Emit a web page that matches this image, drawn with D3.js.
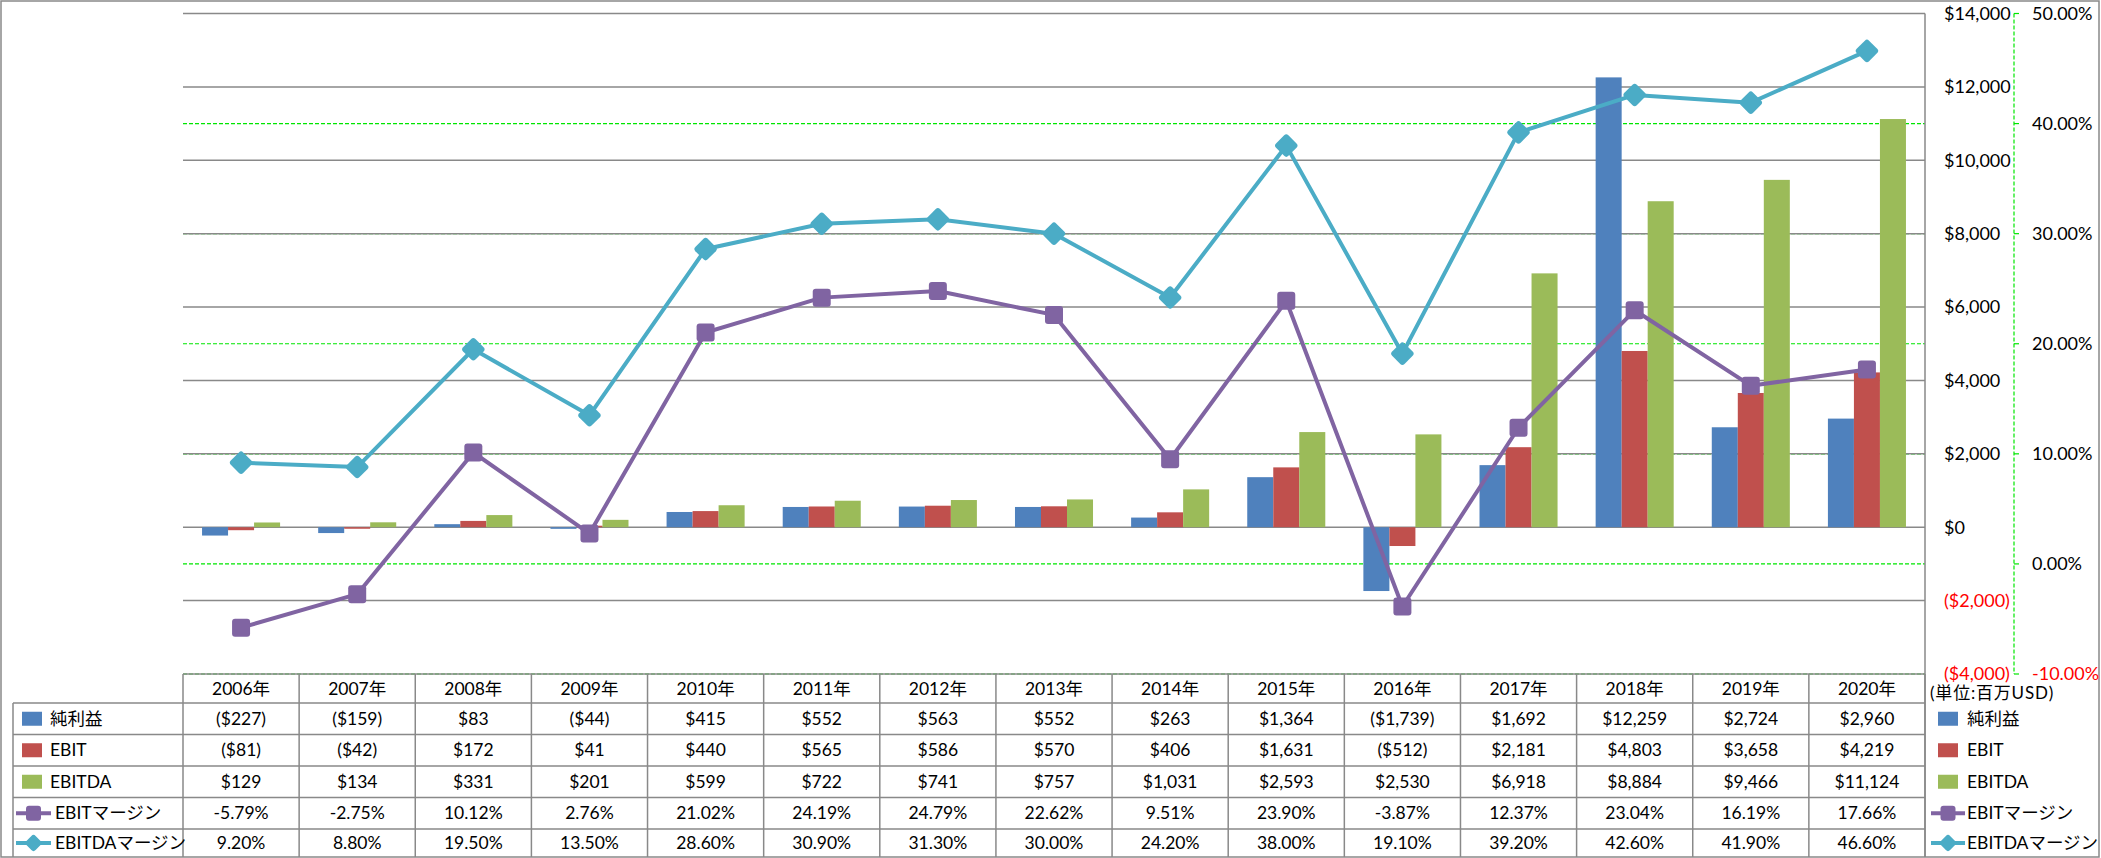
<!DOCTYPE html>
<html><head><meta charset="utf-8">
<script src="https://cdn.jsdelivr.net/npm/d3@7"></script>
<style>
body{margin:0;background:#fff}
svg{display:block}
text{font-family:Lato,'Noto Sans CJK JP',sans-serif;fill:#000}
</style>
</head><body>
<svg id="c" width="2101" height="858"></svg>
<script>
// ---- data ----
const years = ["2006年","2007年","2008年","2009年","2010年","2011年","2012年","2013年","2014年","2015年","2016年","2017年","2018年","2019年","2020年"];
const netIncome = [-227,-159,83,-44,415,552,563,552,263,1364,-1739,1692,12259,2724,2960];
const ebit      = [-81,-42,172,41,440,565,586,570,406,1631,-512,2181,4803,3658,4219];
const ebitda    = [129,134,331,201,599,722,741,757,1031,2593,2530,6918,8884,9466,11124];
const ebitMargin   = [-5.79,-2.75,10.12,2.76,21.02,24.19,24.79,22.62,9.51,23.90,-3.87,12.37,23.04,16.19,17.66];
const ebitdaMargin = [9.20,8.80,19.50,13.50,28.60,30.90,31.30,30.00,24.20,38.00,19.10,39.20,42.60,41.90,46.60];
const dollarTicks  = [-4000,-2000,0,2000,4000,6000,8000,10000,12000,14000];
const pctTicks     = [-10,0,10,20,30,40,50];
const barNames  = ["純利益","EBIT","EBITDA"];
const lineNames = ["EBITマージン","EBITDAマージン"];
const unitLabel = "(単位:百万USD)";

const barColors  = ["#4F81BD","#C0504D","#9BBB59"];
const lineColors = ["#8064A2","#4BACC6"];
const barSeries = [netIncome, ebit, ebitda];
const lineSeries = [ebitMargin, ebitdaMargin];

// ---- layout ----
const svg = d3.select("#c");
const L = 183, R = 1925, T = 13.5, B = 674;
const grid = "#898989";
const x0 = d3.scaleBand().domain(years).range([L, R]);
const bw = x0.bandwidth();
const x1 = d3.scaleBand().domain(barNames).range([bw*0.164, bw*0.836]);
const yL = d3.scaleLinear().domain([-4000,14000]).range([B, T]);
const yR = d3.scaleLinear().domain([-10,50]).range([B, T]);

const fmtD = v => v < 0 ? "($" + d3.format(",")(-v) + ")" : "$" + d3.format(",")(v);
const fmtP = v => (v < 0 ? "-" : "") + d3.format(".2f")(Math.abs(v)) + "%";

// outer border
svg.append("rect").attr("x",1).attr("y",1).attr("width",2098).attr("height",856)
  .attr("fill","none").attr("stroke",grid).attr("stroke-width",1.5);

// green dashed percent grid
const gp = svg.append("g");
gp.selectAll("line.h").data(pctTicks).join("line")
  .attr("x1",L).attr("x2",R).attr("y1",d=>yR(d)).attr("y2",d=>yR(d))
  .attr("stroke","#00E600").attr("stroke-width",1.2).attr("stroke-dasharray","4,2");
gp.append("line").attr("x1",2014).attr("x2",2014).attr("y1",T).attr("y2",B)
  .attr("stroke","#00E600").attr("stroke-width",1.2).attr("stroke-dasharray","4,2");
gp.selectAll("line.t").data(pctTicks).join("line")
  .attr("x1",2014).attr("x2",2019).attr("y1",d=>yR(d)).attr("y2",d=>yR(d))
  .attr("stroke","#00E600").attr("stroke-width",1.2);

// gray grid
svg.append("g").selectAll("line").data(dollarTicks).join("line")
  .attr("x1",L).attr("x2",R).attr("y1",d=>yL(d)).attr("y2",d=>yL(d))
  .attr("stroke",grid).attr("stroke-width",1.5);
svg.append("line").attr("x1",R).attr("x2",R).attr("y1",T).attr("y2",857)
  .attr("stroke",grid).attr("stroke-width",1.5);

// axis labels
svg.append("g").selectAll("text").data(dollarTicks).join("text")
  .attr("x",1944).attr("y",d=>yL(d)).attr("dy","0.35em")
  .style("font-size","18px").style("fill",d=>d<0?"#FF0000":"#000")
  .text(fmtD);
svg.append("g").selectAll("text").data(pctTicks).join("text")
  .attr("x",2032).attr("y",d=>yR(d)).attr("dy","0.35em")
  .style("font-size","18px").style("fill",d=>d<0?"#FF0000":"#000")
  .text(fmtP);

// bars
barSeries.forEach((ser,si)=>{
  svg.append("g").selectAll("rect").data(ser).join("rect")
    .attr("x",(d,i)=>x0(years[i])+x1(barNames[si]))
    .attr("width",x1.bandwidth())
    .attr("y",d=>Math.min(yL(d),yL(0)))
    .attr("height",d=>Math.abs(yL(d)-yL(0)))
    .attr("fill",barColors[si]);
});

// markers
function marker(g, type, cx, cy, color, s){
  if(type===0){
    g.append("rect").attr("x",cx-s/2).attr("y",cy-s/2).attr("width",s).attr("height",s)
      .attr("rx",3).attr("fill",color);
  } else {
    g.append("rect").attr("x",-s/2).attr("y",-s/2).attr("width",s).attr("height",s)
      .attr("rx",3).attr("fill",color)
      .attr("transform",`translate(${cx},${cy}) rotate(45)`);
  }
}

// lines
lineSeries.forEach((ser,si)=>{
  const g = svg.append("g");
  const line = d3.line().x((d,i)=>x0(years[i])+bw/2).y(d=>yR(d));
  g.append("path").datum(ser).attr("d",line).attr("fill","none")
    .attr("stroke",lineColors[si]).attr("stroke-width",4).attr("stroke-linejoin","round");
  ser.forEach((d,i)=>marker(g, si, x0(years[i])+bw/2, yR(d), lineColors[si], si===0?18:17.5));
});

// data table
const rowTop = [703,734.5,766,797.5,829];
const rowH = 31.5;
const tg = svg.append("g");
rowTop.forEach(y=>{
  tg.append("line").attr("x1",13).attr("x2",R).attr("y1",y).attr("y2",y)
    .attr("stroke",grid).attr("stroke-width",1.5);
});
tg.append("line").attr("x1",13).attr("x2",13).attr("y1",703).attr("y2",857)
  .attr("stroke",grid).attr("stroke-width",1.5);
const bounds = years.map(y=>x0(y)).concat([R]);
tg.selectAll("line.v").data(bounds).join("line")
  .attr("x1",d=>d).attr("x2",d=>d).attr("y1",B).attr("y2",857)
  .attr("stroke",grid).attr("stroke-width",1.5);

tg.selectAll("text.yr").data(years).join("text")
  .attr("x",d=>x0(d)+bw/2).attr("y",689).attr("dy","0.35em")
  .attr("text-anchor","middle").style("font-size","17.5px").text(d=>d);

const allSeries = [netIncome, ebit, ebitda, ebitMargin, ebitdaMargin];
const allNames = barNames.concat(lineNames);
const allColors = barColors.concat(lineColors);
allSeries.forEach((ser,ri)=>{
  const cy = rowTop[ri] + (ri===4 ? 14 : rowH/2);
  tg.append("g").selectAll("text").data(ser).join("text")
    .attr("x",(d,i)=>x0(years[i])+bw/2).attr("y",cy).attr("dy","0.35em")
    .attr("text-anchor","middle").style("font-size","17.5px")
    .text(d=> ri<3 ? fmtD(d) : fmtP(d));
  [[22,33.5,16,51,50],[1938,1948,1931,1965,1967]].forEach(([rx,mx,lx1,lx2,tx],side)=>{
    if(ri<3){
      tg.append("rect").attr("x",rx).attr("y",cy-7).attr("width",20).attr("height",14)
        .attr("fill",allColors[ri]);
      tg.append("text").attr("x",side===0?50:1967).attr("y",cy).attr("dy","0.35em")
        .style("font-size","17.5px").text(allNames[ri]);
    } else {
      tg.append("line").attr("x1",lx1).attr("x2",lx2).attr("y1",cy).attr("y2",cy)
        .attr("stroke",allColors[ri]).attr("stroke-width",4);
      marker(tg, ri-3, mx, cy, allColors[ri], ri===3?15:13);
      tg.append("text").attr("x",side===0?55:1967).attr("y",cy).attr("dy","0.35em")
        .style("font-size","17.5px").text(allNames[ri]);
    }
  });
});
svg.append("text").attr("x",1930).attr("y",693).attr("dy","0.35em")
  .style("font-size","17px").style("letter-spacing","0.8px").text(unitLabel);
</script>
</body></html>
